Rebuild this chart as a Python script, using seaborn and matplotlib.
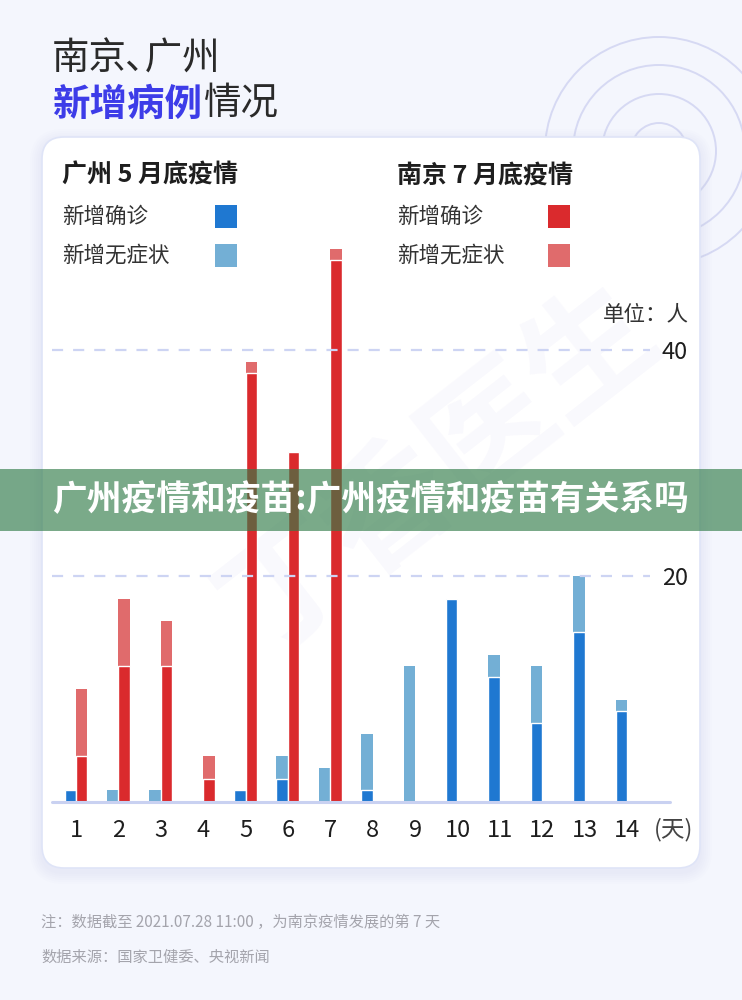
import numpy as np
import pandas as pd
import matplotlib.pyplot as plt
import seaborn as sns
from matplotlib.patches import Rectangle, FancyBboxPatch, Circle
from matplotlib.transforms import IdentityTransform

# data (people per day)
days = [str(d) for d in range(1, 15)]
gz_confirmed = [1, 0, 0, 0, 1, 2, 0, 1, 0, 18, 11, 7, 15, 8]
gz_asym = [0, 1, 1, 0, 0, 2, 3, 5, 12, 0, 2, 5, 5, 1]
nj_days = days[:7]
nj_confirmed = [4, 12, 12, 2, 38, 31, 48]
nj_asym = [6, 6, 4, 2, 1, 0, 1]
y_ticks = [20, 40]

cities = ['广州', '南京']
dark = {'广州': '#1f78d1', '南京': '#da2a2d'}
light = {'广州': '#73afd5', '南京': '#e06b6c'}

gz = pd.DataFrame({'day': days, 'city': '广州', 'confirmed': gz_confirmed, 'asym': gz_asym})
nj = pd.DataFrame({'day': nj_days, 'city': '南京', 'confirmed': nj_confirmed, 'asym': nj_asym})
df = pd.concat([gz, nj], ignore_index=True)
df['total'] = df['confirmed'] + df['asym']

sns.set_style('white')
plt.rcParams['font.family'] = ['Noto Sans CJK SC', 'DejaVu Sans']

W, H = 742, 1000
fig = plt.figure(figsize=(W / 100, H / 100), dpi=100)
fig.patch.set_facecolor('#f4f6fd')
ident = IdentityTransform()


def fx(x):
    return x / W


def fy(y):
    return 1 - y / H


# decorative rings behind the card
for r in [28, 57, 86, 114]:
    fig.add_artist(Circle((659, H - 151), r, transform=ident, fill=False,
                          edgecolor='#d6d9f3', lw=1.4, zorder=-3))

# card shadow + card
for i in range(1, 7):
    fig.add_artist(FancyBboxPatch((42 - i * 2, H - 868 - 4 - i * 2), 658 + i * 4, 731 + i * 4,
                                  boxstyle='round,pad=0,rounding_size=%d' % (22 + i * 2),
                                  transform=ident, facecolor='#c3cbee', edgecolor='none',
                                  alpha=0.035, zorder=-2))
fig.add_artist(FancyBboxPatch((42, H - 868), 658, 731, boxstyle='round,pad=0,rounding_size=22',
                              transform=ident, facecolor='white', edgecolor='#dfe4f7',
                              lw=1.2, zorder=-1))

# faint watermark
fig.text(fx(440), fy(470), '丁香医生', fontsize=92, rotation=38, color='#6a5acd', alpha=0.04,
         ha='center', va='center', fontweight='bold', zorder=-0.5)

# title
fig.text(fx(52), fy(59), '南京､广州', fontsize=27, fontweight='medium', color='#2a2a2a', va='center')
fig.text(fx(52), fy(104), '新增病例', fontsize=27, fontweight='bold', color='#3d3ce8', va='center')
fig.text(fx(204), fy(104), '情况', fontsize=27, fontweight='medium', color='#2a2a2a', va='center')

# legends
for city, x0, sq, head in [('广州', 62, 215, '广州 5 月底疫情'), ('南京', 397, 548, '南京 7 月底疫情')]:
    fig.text(fx(x0), fy(176), head, fontsize=18, fontweight='bold', color='#1e1e1e', va='center')
    fig.text(fx(x0), fy(217), '新增确诊', fontsize=15.5, color='#333333', va='center')
    fig.text(fx(x0), fy(256), '新增无症状', fontsize=15.5, color='#333333', va='center')
    fig.add_artist(Rectangle((sq, H - 228), 22, 23, transform=ident, facecolor=dark[city],
                             edgecolor='none'))
    fig.add_artist(Rectangle((sq, H - 267), 22, 23, transform=ident, facecolor=light[city],
                             edgecolor='none'))

fig.text(fx(689), fy(315), '单位：人', fontsize=15.5, color='#333333', ha='right', va='center')

# chart axes: left edge 52px, right edge 650px, y=0 at 801.5px, top at 240px
step = 42.4
ax = fig.add_axes([fx(52), fy(801.5), (650 - 52) / W, (801.5 - 240) / H])
ax.set_facecolor('none')

sns.barplot(data=df, x='day', y='total', hue='city', hue_order=cities, order=days,
            palette=light, saturation=1, width=0.54, dodge=True, gap=0, errorbar=None,
            linewidth=0, legend=False, ax=ax)
sns.barplot(data=df, x='day', y='confirmed', hue='city', hue_order=cities, order=days,
            palette=dark, saturation=1, width=0.54, dodge=True, gap=0, errorbar=None,
            edgecolor='white', linewidth=1, legend=False, ax=ax)

ax.set_xlim(-(76 - 52) / step, 13 + (650 - 627) / step)
ax.set_ylim(0, (801.5 - 240) / 11.275)

for v in y_ticks:
    ax.axhline(v, color='#cdd4f3', lw=1.6, ls=(0, (5, 4.5)), zorder=3)
ax.axhline(0, xmin=0, xmax=(670 - 52) / (650 - 52), color='#c9d1f1', lw=2.2,
           clip_on=False, zorder=4)

ax.set_yticks(y_ticks)
ax.yaxis.tick_right()
ax.tick_params(axis='y', length=0, pad=8.5, labelsize=17, labelcolor='#1e1e1e')
ax.tick_params(axis='x', length=0, pad=12.5, labelsize=17, labelcolor='#1e1e1e')
ax.set_xlabel('')
ax.set_ylabel('')
sns.despine(ax=ax, left=True, bottom=True)

fig.text(fx(654), fy(830), '(天)', fontsize=17, color='#444444', va='center')

# footnotes
fig.text(fx(41), fy(922), '注：数据截至 2021.07.28 11:00 ，为南京疫情发展的第 7 天',
         fontsize=11, color='#a4a4ac', va='center')
fig.text(fx(41), fy(957), '数据来源：国家卫健委、央视新闻', fontsize=11, color='#a4a4ac', va='center')

# overlay banner
fig.add_artist(Rectangle((0, H - 531), W, 62, transform=ident, facecolor=(0.2, 0.49, 0.29),
                         alpha=0.65, edgecolor='none', zorder=5))
fig.text(0.5, fy(500), '广州疫情和疫苗:广州疫情和疫苗有关系吗', fontsize=25, fontweight='bold',
         color='white', ha='center', va='center', zorder=6)

fig.savefig('out.png', dpi=100)
